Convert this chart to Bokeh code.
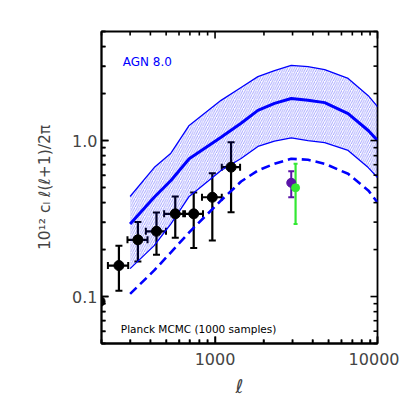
import math
from bokeh.plotting import figure
from bokeh.models import Range1d, FixedTicker, Whisker, TeeHead, ColumnDataSource, Label
from bokeh.embed import file_html
from bokeh.resources import INLINE

# model curves (multipole, 10^12 C_l l(l+1)/2pi)
ell = [300, 422, 535, 693, 1089, 1446, 1836, 2323, 2944, 3733, 4730, 6594, 8770, 10000]
upper = [0.438, 0.671, 0.830, 1.25, 1.81, 2.19, 2.57, 2.81, 3.03, 2.98, 2.85, 2.50, 1.94, 1.65]
mean = [0.292, 0.433, 0.554, 0.764, 1.05, 1.29, 1.56, 1.73, 1.86, 1.81, 1.75, 1.49, 1.16, 1.00]
lower = [0.151, 0.212, 0.292, 0.438, 0.643, 0.767, 0.916, 0.99, 1.04, 1.00, 0.97, 0.864, 0.671, 0.579]
dashed = [0.104, 0.147, 0.192, 0.258, 0.413, 0.546, 0.643, 0.710, 0.764, 0.753, 0.710, 0.612, 0.479, 0.401]

# data points
data_l = [256, 335, 436, 569, 739, 962, 1255]
data_v = [0.158, 0.231, 0.262, 0.339, 0.339, 0.433, 0.675]
data_lo = [0.109, 0.168, 0.185, 0.238, 0.205, 0.229, 0.347]
data_hi = [0.212, 0.300, 0.346, 0.438, 0.465, 0.618, 0.975]
data_lmin = [219, 289, 375, 486, 637, 831, 1100]
data_lmax = [292, 384, 499, 653, 843, 1100, 1426]

edge_l = [196]
edge_v = [0.093]

purple_l = [2945]
purple_v = [0.536]
purple_lo = [0.433]
purple_hi = [0.635]

green_l = [3131]
green_v = [0.498]
green_lo = [0.292]
green_hi = [0.710]

x_lim = [200, 10000]
y_lim = [0.05, 5]
x_major = [1000, 10000]
x_minor = [200, 300, 400, 500, 600, 700, 800, 900, 2000, 3000, 4000, 5000, 6000, 7000, 8000, 9000]
y_major = [0.1, 1.0]
y_minor = [0.05, 0.06, 0.07, 0.08, 0.09, 0.2, 0.3, 0.4, 0.5, 0.6, 0.7, 0.8, 0.9, 2, 3, 4, 5]

BLUE = "#0000ff"
FONT = "DejaVu Sans"
FW, FH = 276, 312

p = figure(x_axis_type="log", y_axis_type="log",
           x_range=Range1d(*x_lim), y_range=Range1d(*y_lim),
           width=399, height=399,
           min_border_left=101, min_border_top=31, min_border_right=22, min_border_bottom=56,
           output_backend="svg", toolbar_location=None)
p.xgrid.visible = False
p.ygrid.visible = False
p.outline_line_color = "black"
p.outline_line_width = 1.8

def style(ax):
    ax.axis_line_color = "black"
    ax.axis_line_width = 1.8
    ax.major_tick_in = 7
    ax.major_tick_out = 0
    ax.minor_tick_in = 4
    ax.minor_tick_out = 0
    ax.major_tick_line_color = "black"
    ax.minor_tick_line_color = "black"
    ax.major_tick_line_width = 1.5
    ax.minor_tick_line_width = 1.5
    ax.level = "overlay"

xa = p.xaxis[0]
xa.ticker = FixedTicker(ticks=x_major, minor_ticks=x_minor)
style(xa)
xa.major_label_overrides = {1000: "1000", 10000: "10000"}
xa.major_label_text_font = FONT
xa.major_label_text_font_size = "16px"
xa.major_label_standoff = 9
xa.axis_label = "ℓ"
xa.axis_label_text_font = FONT
xa.axis_label_text_font_size = "19px"
xa.axis_label_text_font_style = "italic"
xa.axis_label_standoff = 7

ya = p.yaxis[0]
ya.ticker = FixedTicker(ticks=y_major, minor_ticks=y_minor)
style(ya)
ya.major_label_overrides = {0.1: "0.1", 1: "1.0"}
ya.major_label_text_font = FONT
ya.major_label_text_font_size = "16px"
ya.major_label_standoff = 4
ya.axis_label = "10¹² cₗ ℓ(ℓ+1)/2π"
ya.axis_label_text_font = FONT
ya.axis_label_text_font_size = "15.5px"
ya.axis_label_text_font_style = "normal"
ya.axis_label_standoff = 15

# hatched band
p.varea(x=ell, y1=lower, y2=upper, fill_alpha=0, hatch_pattern="/",
        hatch_color=BLUE, hatch_alpha=0.6, hatch_weight=0.6, hatch_scale=4.5)
p.line(ell, upper, line_color=BLUE, line_width=1.3)
p.line(ell, lower, line_color=BLUE, line_width=1.3)
p.line(ell, mean, line_color=BLUE, line_width=3)
p.line(ell, dashed, line_color=BLUE, line_width=2.6, line_dash="9 5")

# black data with errors
src = ColumnDataSource(dict(l=data_l, v=data_v, lo=data_lo, hi=data_hi,
                            lmin=data_lmin, lmax=data_lmax))
p.add_layout(Whisker(source=src, base="l", lower="lo", upper="hi", dimension="height",
                     line_color="black", line_width=2.2,
                     upper_head=TeeHead(size=7, line_width=2, line_color="black"),
                     lower_head=TeeHead(size=7, line_width=2, line_color="black")))
p.add_layout(Whisker(source=src, base="v", lower="lmin", upper="lmax", dimension="width",
                     line_color="black", line_width=2.2,
                     upper_head=TeeHead(size=7, line_width=2, line_color="black"),
                     lower_head=TeeHead(size=7, line_width=2, line_color="black")))
p.scatter("l", "v", source=src, size=10, color="black")
p.scatter(edge_l, edge_v, size=10, color="black")

PURPLE = "#5a14a8"
GREEN = "#33e833"
psrc = ColumnDataSource(dict(l=purple_l, v=purple_v, lo=purple_lo, hi=purple_hi))
p.add_layout(Whisker(source=psrc, base="l", lower="lo", upper="hi", dimension="height",
                     line_color=PURPLE, line_width=2,
                     upper_head=TeeHead(size=6, line_width=2, line_color=PURPLE),
                     lower_head=TeeHead(size=6, line_width=2, line_color=PURPLE)))
p.scatter("l", "v", source=psrc, size=9, color=PURPLE)
gsrc = ColumnDataSource(dict(l=green_l, v=green_v, lo=green_lo, hi=green_hi))
p.add_layout(Whisker(source=gsrc, base="l", lower="lo", upper="hi", dimension="height",
                     line_color=GREEN, line_width=2.2,
                     upper_head=TeeHead(size=4, line_width=2, line_color=GREEN),
                     lower_head=TeeHead(size=4, line_width=2, line_color=GREEN)))
p.scatter("l", "v", source=gsrc, size=8, color=GREEN)

# inward tick marks on all four sides, drawn as segments on the overlay level
xdec = FW / math.log10(x_lim[1] / x_lim[0])
ydec = FH / math.log10(y_lim[1] / y_lim[0])

def add_xticks(vals, length):
    fy = 10 ** (length / ydec)
    n = len(vals)
    for yb, f in ((y_lim[0], fy), (y_lim[1], 1 / fy)):
        r = p.segment(x0=vals, y0=[yb] * n, x1=vals, y1=[yb * f] * n,
                      line_color="black", line_width=1.6)
        r.level = "overlay"

def add_yticks(vals, length):
    fx = 10 ** (length / xdec)
    n = len(vals)
    for xb, f in ((x_lim[0], fx), (x_lim[1], 1 / fx)):
        r = p.segment(x0=[xb] * n, y0=vals, x1=[xb * f] * n, y1=vals,
                      line_color="black", line_width=1.6)
        r.level = "overlay"

add_xticks(x_major, 7)
add_xticks(x_minor, 4)
add_yticks(y_major, 7)
add_yticks(y_minor, 4)

p.add_layout(Label(x=270, y=3.17, text="AGN 8.0", text_color=BLUE,
                   text_font=FONT, text_font_size="12px", text_baseline="alphabetic"))
p.add_layout(Label(x=263, y=0.062, text="Planck MCMC (1000 samples)", text_color="black",
                   text_font=FONT, text_font_size="10.5px", text_baseline="alphabetic"))

open("out.html", "w").write(file_html(p, INLINE))
